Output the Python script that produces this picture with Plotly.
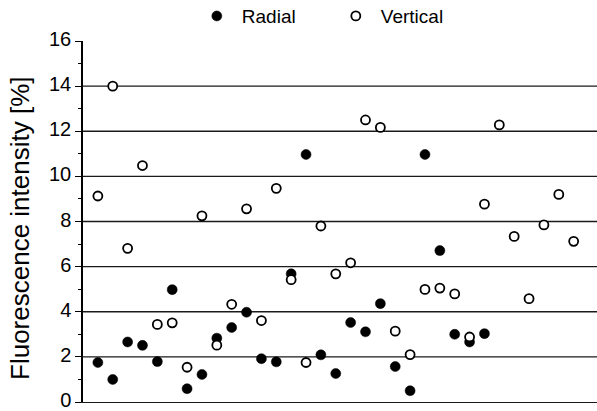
import plotly.graph_objects as go

sample_index = list(range(1, 34))

radial = [1.75, 1.0, 2.66, 2.51, 1.79, 4.98, 0.59, 1.22, 2.83, 3.30,
          3.98, 1.92, 1.78, 5.68, 10.97, 2.09, 1.26, 3.52, 3.11, 4.36,
          1.57, 0.50, 10.97, 6.71, 3.00, 2.66, 3.03]

vertical = [9.13, 14.0, 6.81, 10.48, 3.44, 3.51, 1.54, 8.25, 2.52, 4.33,
            8.56, 3.61, 9.47, 5.42, 1.75, 7.80, 5.68, 6.17, 12.50, 12.17,
            3.14, 2.10, 4.99, 5.05, 4.79, 2.88, 8.77, 12.28, 7.34, 4.58,
            7.85, 9.20, 7.12]

y_ticks = [0, 2, 4, 6, 8, 10, 12, 14, 16]
grid_levels = [2, 4, 6, 8, 10, 12, 14]

FONT = "Liberation Sans, Arial, sans-serif"

fig = go.Figure()
fig.add_trace(go.Scatter(
    x=sample_index[:len(radial)], y=radial, mode="markers", name="Radial",
    marker=dict(symbol="circle", size=10, color="black",
                line=dict(color="black", width=0.5)),
))
fig.add_trace(go.Scatter(
    x=sample_index[:len(vertical)], y=vertical, mode="markers", name="Vertical",
    marker=dict(symbol="circle", size=9, color="white",
                line=dict(color="black", width=1.8)),
))

for g in grid_levels:
    fig.add_shape(type="line", xref="paper", x0=0, x1=1, yref="y", y0=g, y1=g,
                  line=dict(color="#1a1a1a", width=1.4), layer="below")

fig.add_annotation(text="Fluorescence intensity [%]", textangle=-90,
                   xref="paper", yref="paper", x=-0.1226, y=0.482,
                   xanchor="center", yanchor="middle", showarrow=False,
                   font=dict(size=26, family=FONT, color="black"))

fig.update_layout(
    width=597, height=411,
    margin=dict(l=83, r=0, t=41, b=9, autoexpand=False),
    paper_bgcolor="white", plot_bgcolor="white",
    font=dict(family=FONT, color="black"),
    showlegend=True,
    legend=dict(orientation="h", x=0.2117, xanchor="left", y=1.069, yanchor="middle",
                font=dict(size=19, family=FONT), entrywidth=84, entrywidthmode="pixels",
                itemwidth=40, bgcolor="rgba(0,0,0,0)"),
    xaxis=dict(range=[0, 34.57], showgrid=False, zeroline=False,
               showline=True, linecolor="#1a1a1a", linewidth=1.4,
               showticklabels=False, ticks="", automargin=False),
    yaxis=dict(range=[0, 16], tickvals=y_ticks, showgrid=False, zeroline=False,
               showline=True, linecolor="black", linewidth=1.5,
               ticks="outside", ticklen=6, tickwidth=1.3, tickcolor="black",
               tickfont=dict(size=20, family=FONT), automargin=False,
               ticklabeloverflow="allow", ticklabelshift=-2,
               minor=dict(dtick=1, ticks="outside", ticklen=3, tickwidth=1.2,
                          tickcolor="black", showgrid=False)),
)

fig.write_html("out.html", config={"displayModeBar": False},
               post_script="document.body.style.margin='0';document.body.style.overflow='hidden';")
